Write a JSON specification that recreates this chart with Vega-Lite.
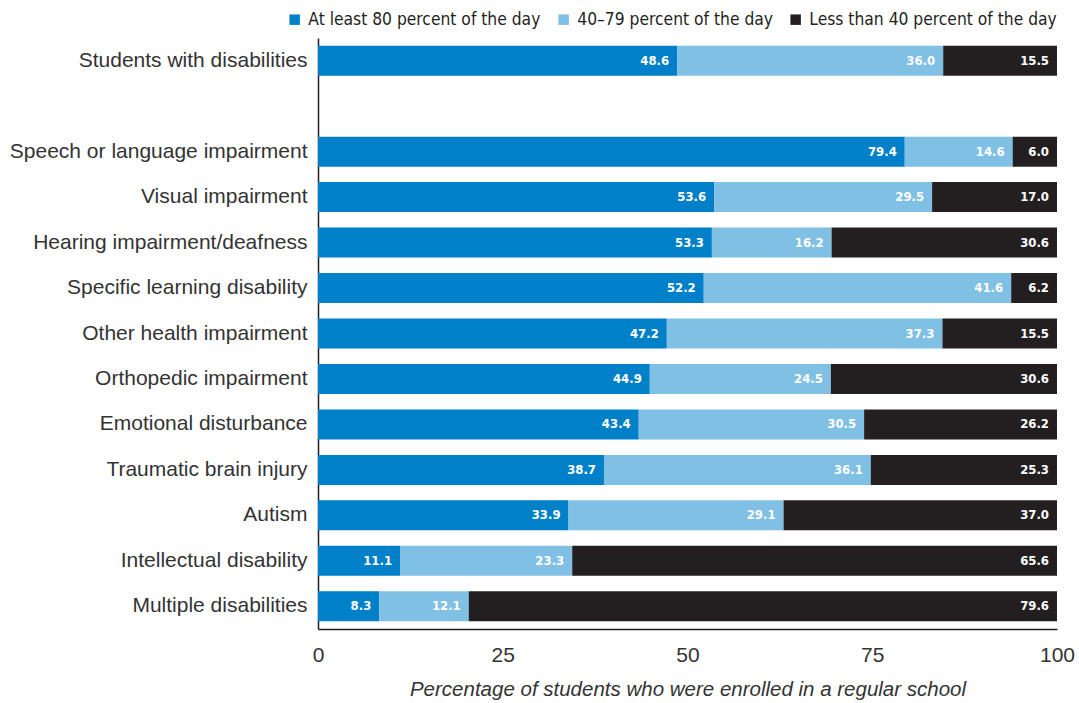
{
  "$schema": "https://vega.github.io/schema/vega-lite/v6.json",
  "width": 739,
  "height": 591,
  "autosize": {"type": "none"},
  "padding": {"left": 318, "top": 38, "right": 22, "bottom": 74},
  "background": "white",
  "config": {"view": {"stroke": null}, "font": "Liberation Sans"},
  "data": {"values": [
    {"cat": "Students with disabilities", "grp": "At least 80 percent of the day", "ord": 1, "v": 48.6},
    {"cat": "Students with disabilities", "grp": "40–79 percent of the day", "ord": 2, "v": 36.0},
    {"cat": "Students with disabilities", "grp": "Less than 40 percent of the day", "ord": 3, "v": 15.5},
    {"cat": "Speech or language impairment", "grp": "At least 80 percent of the day", "ord": 1, "v": 79.4},
    {"cat": "Speech or language impairment", "grp": "40–79 percent of the day", "ord": 2, "v": 14.6},
    {"cat": "Speech or language impairment", "grp": "Less than 40 percent of the day", "ord": 3, "v": 6.0},
    {"cat": "Visual impairment", "grp": "At least 80 percent of the day", "ord": 1, "v": 53.6},
    {"cat": "Visual impairment", "grp": "40–79 percent of the day", "ord": 2, "v": 29.5},
    {"cat": "Visual impairment", "grp": "Less than 40 percent of the day", "ord": 3, "v": 17.0},
    {"cat": "Hearing impairment/deafness", "grp": "At least 80 percent of the day", "ord": 1, "v": 53.3},
    {"cat": "Hearing impairment/deafness", "grp": "40–79 percent of the day", "ord": 2, "v": 16.2},
    {"cat": "Hearing impairment/deafness", "grp": "Less than 40 percent of the day", "ord": 3, "v": 30.6},
    {"cat": "Specific learning disability", "grp": "At least 80 percent of the day", "ord": 1, "v": 52.2},
    {"cat": "Specific learning disability", "grp": "40–79 percent of the day", "ord": 2, "v": 41.6},
    {"cat": "Specific learning disability", "grp": "Less than 40 percent of the day", "ord": 3, "v": 6.2},
    {"cat": "Other health impairment", "grp": "At least 80 percent of the day", "ord": 1, "v": 47.2},
    {"cat": "Other health impairment", "grp": "40–79 percent of the day", "ord": 2, "v": 37.3},
    {"cat": "Other health impairment", "grp": "Less than 40 percent of the day", "ord": 3, "v": 15.5},
    {"cat": "Orthopedic impairment", "grp": "At least 80 percent of the day", "ord": 1, "v": 44.9},
    {"cat": "Orthopedic impairment", "grp": "40–79 percent of the day", "ord": 2, "v": 24.5},
    {"cat": "Orthopedic impairment", "grp": "Less than 40 percent of the day", "ord": 3, "v": 30.6},
    {"cat": "Emotional disturbance", "grp": "At least 80 percent of the day", "ord": 1, "v": 43.4},
    {"cat": "Emotional disturbance", "grp": "40–79 percent of the day", "ord": 2, "v": 30.5},
    {"cat": "Emotional disturbance", "grp": "Less than 40 percent of the day", "ord": 3, "v": 26.2},
    {"cat": "Traumatic brain injury", "grp": "At least 80 percent of the day", "ord": 1, "v": 38.7},
    {"cat": "Traumatic brain injury", "grp": "40–79 percent of the day", "ord": 2, "v": 36.1},
    {"cat": "Traumatic brain injury", "grp": "Less than 40 percent of the day", "ord": 3, "v": 25.3},
    {"cat": "Autism", "grp": "At least 80 percent of the day", "ord": 1, "v": 33.9},
    {"cat": "Autism", "grp": "40–79 percent of the day", "ord": 2, "v": 29.1},
    {"cat": "Autism", "grp": "Less than 40 percent of the day", "ord": 3, "v": 37.0},
    {"cat": "Intellectual disability", "grp": "At least 80 percent of the day", "ord": 1, "v": 11.1},
    {"cat": "Intellectual disability", "grp": "40–79 percent of the day", "ord": 2, "v": 23.3},
    {"cat": "Intellectual disability", "grp": "Less than 40 percent of the day", "ord": 3, "v": 65.6},
    {"cat": "Multiple disabilities", "grp": "At least 80 percent of the day", "ord": 1, "v": 8.3},
    {"cat": "Multiple disabilities", "grp": "40–79 percent of the day", "ord": 2, "v": 12.1},
    {"cat": "Multiple disabilities", "grp": "Less than 40 percent of the day", "ord": 3, "v": 79.6}
  ]},
  "transform": [
    {"stack": "v", "groupby": ["cat"], "sort": [{"field": "ord", "order": "ascending"}], "as": ["x0", "x1"]}
  ],
  "encoding": {
    "y": {
      "field": "cat", "type": "nominal",
      "scale": {
        "domain": ["Students with disabilities", " ", "Speech or language impairment", "Visual impairment", "Hearing impairment/deafness", "Specific learning disability", "Other health impairment", "Orthopedic impairment", "Emotional disturbance", "Traumatic brain injury", "Autism", "Intellectual disability", "Multiple disabilities"],
        "paddingInner": 0.34, "paddingOuter": 0.17
      },
      "axis": {
        "title": null, "ticks": false, "domainColor": "#231F20", "domainWidth": 1.5,
        "labelFontSize": 21, "labelColor": "#333333", "labelPadding": 11, "labelFont": "Liberation Sans",
        "labelLimit": 0
      }
    }
  },
  "layer": [
    {
      "mark": {"type": "bar"},
      "encoding": {
        "x": {
          "field": "x0", "type": "quantitative",
          "scale": {"domain": [0, 100], "clamp": true, "nice": false},
          "axis": {
            "values": [0, 25, 50, 75, 100], "grid": false, "ticks": false,
            "domainColor": "#231F20", "domainWidth": 1.5,
            "labelFontSize": 21, "labelColor": "#333333", "labelPadding": 15,
            "labelFlush": false, "labelFont": "Liberation Sans",
            "title": "Percentage of students who were enrolled in a regular school",
            "titleFontSize": 20.5, "titleFontStyle": "italic", "titleFontWeight": "normal",
            "titleColor": "#333333", "titlePadding": 14, "titleFont": "Liberation Sans"
          }
        },
        "x2": {"field": "x1"},
        "color": {
          "field": "grp", "type": "nominal",
          "scale": {
            "domain": ["At least 80 percent of the day", "40–79 percent of the day", "Less than 40 percent of the day"],
            "range": ["#0080C8", "#80C0E4", "#231F20"]
          },
          "legend": {
            "title": null, "orient": "none", "direction": "horizontal",
            "legendX": -32, "legendY": -27,
            "symbolType": "square", "symbolSize": 110, "symbolStrokeWidth": 0,
            "labelFontSize": 17.3, "labelColor": "#231F20", "labelLimit": 0,
            "labelFont": "DejaVu Sans Condensed",
            "columnPadding": 14, "labelOffset": 5
          }
        }
      }
    },
    {
      "mark": {"type": "text", "align": "right", "baseline": "middle", "dx": -8, "color": "white", "fontWeight": "bold", "fontSize": 13, "font": "DejaVu Sans Condensed"},
      "encoding": {
        "x": {"field": "x1", "type": "quantitative"},
        "text": {"field": "v", "type": "quantitative", "format": ".1f"}
      }
    }
  ]
}
